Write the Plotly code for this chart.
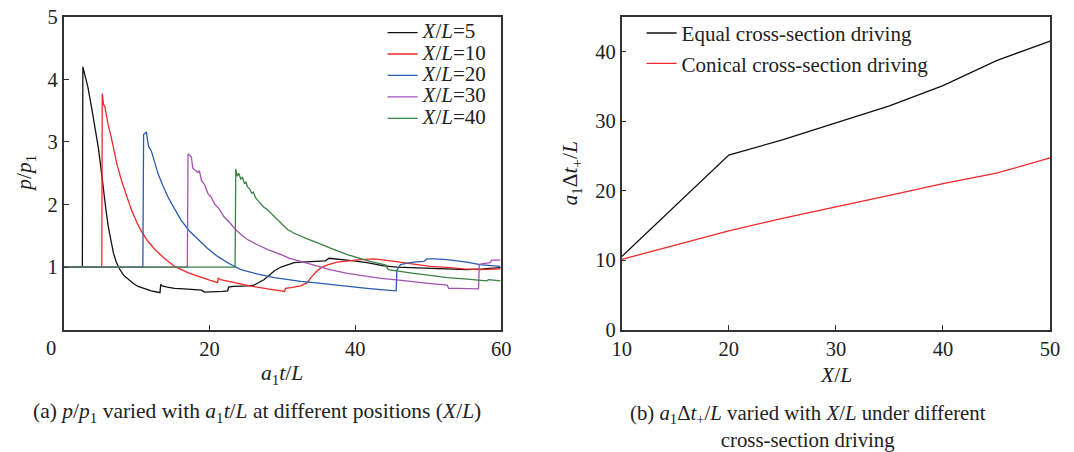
import plotly.graph_objects as go

# ---------------- data: panel (a) ----------------
t5 = [0, 2.55, 2.62, 3.3, 3.83, 4.3, 4.74, 5.1, 5.42, 5.8, 6.1, 6.5, 6.8, 7.2, 7.7, 8.2, 8.84, 9.5, 10.2,
      11.0, 12.0, 12.6, 13.2, 13.3, 13.5, 14.2, 15.2, 16.5, 17.8, 18.9, 19.3, 20.5, 21.8, 22.5, 22.6, 23.3,
      24.3, 25.3, 26.1, 26.8, 27.5, 28.2, 28.9, 29.8, 30.7, 31.6, 32.5, 33.9, 35.3, 35.9, 36.4, 37.5, 38.5,
      39.8, 41.6, 43.9, 45.7, 48.0, 50.8, 53.0, 55.3, 57.5, 59.9]
p5 = [1, 1, 4.2, 3.88, 3.54, 3.22, 2.91, 2.58, 2.22, 1.9, 1.65, 1.42, 1.23, 1.08, 0.96, 0.87, 0.80, 0.74, 0.69,
      0.655, 0.62, 0.605, 0.59, 0.72, 0.70, 0.68, 0.66, 0.65, 0.64, 0.63, 0.60, 0.60, 0.61, 0.62, 0.68, 0.69,
      0.69, 0.70, 0.71, 0.75, 0.80, 0.87, 0.94, 1.00, 1.04, 1.07, 1.08, 1.09, 1.10, 1.10, 1.14, 1.13, 1.12,
      1.10, 1.07, 1.02, 1.00, 0.99, 0.98, 0.97, 0.96, 0.97, 0.99]

t10 = [0, 5.22, 5.28, 5.45, 5.65, 6.1, 6.5, 6.79, 7.3, 7.93, 8.6, 9.29, 10.0, 10.66, 11.5, 12.5, 13.8, 15.2,
       17.0, 18.9, 20.0, 21.1, 21.2, 21.5, 23.4, 25.5, 28.0, 30.3, 30.4, 31.2, 32.5, 33.4, 33.9, 34.6, 35.3,
       36.3, 37.5, 39.4, 40.7, 42.6, 43.5, 45.3, 48.5, 50.3, 53.0, 54.8, 57.0, 59.9]
p10 = [1, 1, 3.77, 3.6, 3.56, 3.27, 3.08, 2.91, 2.64, 2.38, 2.13, 1.91, 1.72, 1.57, 1.42, 1.28, 1.14, 1.01,
       0.91, 0.83, 0.79, 0.75, 0.82, 0.80, 0.75, 0.70, 0.65, 0.61, 0.66, 0.67, 0.70, 0.75, 0.83, 0.92, 0.99,
       1.04, 1.08, 1.11, 1.12, 1.13, 1.12, 1.09, 1.04, 1.01, 0.99, 0.97, 0.96, 0.97]

t20 = [0, 10.85, 10.95, 11.34, 11.5, 11.66, 12.0, 12.26, 12.6, 12.94, 13.6, 14.3, 15.2, 16.1, 17.2, 18.4,
       19.7, 21.1, 22.6, 24.3, 26.5, 28.9, 30.5, 32.5, 34.3, 36.5, 38.9, 41.6, 43.5, 45.6, 45.7, 46.2, 47.0,
       48.0, 49.4, 49.8, 51.0, 52.6, 55.3, 57.1, 59.9]
p20 = [1, 1, 3.12, 3.16, 3.02, 2.92, 2.86, 2.75, 2.65, 2.49, 2.30, 2.12, 1.93, 1.75, 1.58, 1.44,
       1.30, 1.17, 1.06, 0.96, 0.89, 0.83, 0.80, 0.77, 0.75, 0.72, 0.69, 0.66, 0.64, 0.62, 0.95, 1.04, 1.06,
       1.08, 1.09, 1.13, 1.13, 1.12, 1.08, 1.04, 1.01]

t30 = [0, 16.95, 17.05, 17.5, 17.7, 18.0, 18.4, 18.6, 18.9, 19.3, 19.8, 20.2, 20.7, 21.3, 22.0, 22.7, 23.4,
       24.3, 25.2, 26.5, 28.0, 29.8, 31.0, 32.5, 34.3, 36.5, 38.9, 41.0, 43.5, 46.0, 48.0, 50.0, 52.6, 52.8,
       54.0, 56.9, 57.0, 57.3, 58.5, 58.7, 59.9]
p30 = [1, 1, 2.81, 2.76, 2.58, 2.55, 2.51, 2.54, 2.38, 2.32, 2.17, 2.12, 2.01, 1.93, 1.80, 1.72, 1.62,
       1.52, 1.44, 1.36, 1.28, 1.20, 1.14, 1.09, 1.03, 0.96, 0.90, 0.86, 0.82, 0.79, 0.76, 0.74, 0.71, 0.66,
       0.66, 0.65, 1.04, 1.05, 1.07, 1.11, 1.11]

t40 = [0, 23.5, 23.6, 23.8, 24.0, 24.3, 24.5, 24.8, 25.0, 25.2, 25.5, 25.8, 26.0, 26.3, 26.6, 27.0, 27.4,
       27.8, 28.4, 29.0, 29.8, 30.7, 31.6, 32.5, 33.4, 34.3, 35.7, 37.1, 38.9, 40.5, 42.0, 43.5, 44.2, 44.5,
       46.0, 48.0, 50.0, 52.6, 55.0, 58.0, 58.3, 59.0, 59.9]
p40 = [1, 1, 2.57, 2.45, 2.50, 2.40, 2.44, 2.33, 2.36, 2.28, 2.25, 2.18, 2.20, 2.11, 2.07, 2.02, 1.96,
       1.93, 1.86, 1.79, 1.70, 1.60, 1.54, 1.49, 1.45, 1.41, 1.34, 1.28, 1.20, 1.14, 1.09, 1.05, 1.03, 0.96,
       0.93, 0.90, 0.87, 0.83, 0.81, 0.78, 0.80, 0.79, 0.78]

series_a = [("5", t5, p5, "#111111"), ("10", t10, p10, "#f02828"), ("20", t20, p20, "#2a5cb0"),
            ("30", t30, p30, "#a452b4"), ("40", t40, p40, "#3a8244")]
xticks_a = [20, 40, 60]
yticks_a = [1, 2, 3, 4, 5]

# ---------------- data: panel (b) ----------------
xl = [10, 15, 20, 25, 30, 35, 40, 45, 50]
equal_drv = [10.5, 17.8, 25.1, 27.3, 29.7, 32.2, 35.1, 38.7, 41.5]
conical_drv = [10.1, 12.2, 14.2, 16.0, 17.6, 19.3, 21.0, 22.5, 24.7]
xticks_b = [10, 20, 30, 40, 50]
yticks_b = [0, 10, 20, 30, 40]

FONT = "Liberation Serif"
W, H = 1074, 452          # reference layout space (fractions are computed from it)
FW, FH = 1090, 468        # rendered page size (the page is fitted back into 1074x452)
fig = go.Figure()

for name, t, p, c in series_a:
    fig.add_trace(go.Scatter(
        x=t, y=p, mode="lines", line=dict(color=c, width=1.3),
        name='<span style="font-size:21px"><i>X</i>/<i>L</i>=' + name + '</span>',
        xaxis="x", yaxis="y", legend="legend"))

fig.add_trace(go.Scatter(x=xl, y=equal_drv, mode="lines", line=dict(color="#111111", width=1.3),
                         name="Equal cross-section driving", xaxis="x2", yaxis="y2", legend="legend2"))
fig.add_trace(go.Scatter(x=xl, y=conical_drv, mode="lines", line=dict(color="#f02828", width=1.3),
                         name="Conical cross-section driving", xaxis="x2", yaxis="y2", legend="legend2"))

ax_common = dict(showgrid=False, zeroline=False, showline=True, mirror=True, linecolor="#333333",
                 linewidth=1.6, ticks="inside", ticklen=5, tickcolor="#333333", tickwidth=1.3,
                 tickfont=dict(family=FONT, size=20.5, color="#222222"))

ydom = [(H - 331) / H, (H - 14) / H]
fig.update_layout(
    autosize=True, margin=dict(l=0, r=0, t=0, b=0),
    paper_bgcolor="white", plot_bgcolor="white",
    font=dict(family=FONT, color="#222222"),
    xaxis=dict(domain=[62 / W, 501 / W], range=[0, 60], tickvals=xticks_a, anchor="y", **ax_common),
    yaxis=dict(domain=ydom, range=[0, 5], tickvals=yticks_a, anchor="x", **ax_common),
    xaxis2=dict(domain=[622 / W, 1052 / W], range=[10, 50], tickvals=xticks_b, anchor="y2", **ax_common),
    yaxis2=dict(domain=ydom, range=[0, 45], tickvals=yticks_b, anchor="x2", **ax_common),
    legend=dict(x=382 / W, y=(H - 14) / H, xanchor="left", yanchor="top", bgcolor="rgba(0,0,0,0)",
                font=dict(family=FONT, size=14.2, color="#222222"), tracegroupgap=0),
    legend2=dict(x=642 / W, y=(H - 10) / H, xanchor="left", yanchor="top", bgcolor="rgba(0,0,0,0)",
                 font=dict(family=FONT, size=21, color="#222222")),
    showlegend=True,
)

def txt(text, x, y, size=21.5, **kw):
    d = dict(text=text, x=x, y=y, xref="paper", yref="paper", xanchor="center", yanchor="middle",
             showarrow=False, font=dict(family=FONT, size=size, color="#222222"))
    d.update(kw)
    return d

ann = []
# origin label for panel (a)
ann.append(dict(text="0", x=0, y=0, xref="x", yref="y", xanchor="center", yanchor="top",
                xshift=-13, yshift=-5, showarrow=False, font=dict(family=FONT, size=20.5, color="#222222")))
# axis titles
ann.append(txt("<i>a</i><sub>1</sub><i>t</i>/<i>L</i>", (62 + 501) / 2 / W, (H - 377) / H))
ann.append(txt("<i>p</i>/<i>p</i><sub>1</sub>", 24 / W, (H - 172) / H, textangle=-90))
ann.append(txt("<i>X</i>/<i>L</i>", 837 / W, (H - 377) / H))
ann.append(txt("<i>a</i><sub>1</sub>Δ<i>t</i><sub>+</sub>/<i>L</i>", 572 / W, (H - 172) / H, textangle=-90))
# captions
ann.append(txt("(a) <i>p</i>/<i>p</i><sub>1</sub> varied with <i>a</i><sub>1</sub><i>t</i>/<i>L</i> at different positions (<i>X</i>/<i>L</i>)",
               256 / W, (H - 415) / H, size=21.5))
ann.append(txt("(b) <i>a</i><sub>1</sub>Δ<i>t</i><sub>+</sub>/<i>L</i> varied with <i>X</i>/<i>L</i> under different<br>cross-section driving",
               809 / W, (H - 429) / H, size=20.8))
fig.update_layout(annotations=ann)

# the page body has an 8px default margin; cancel it on the plot div so the figure fills the page exactly
fig.write_html("out.html", default_width=f"{FW}px", default_height=f"{FH}px; margin:-8px; overflow:hidden")
